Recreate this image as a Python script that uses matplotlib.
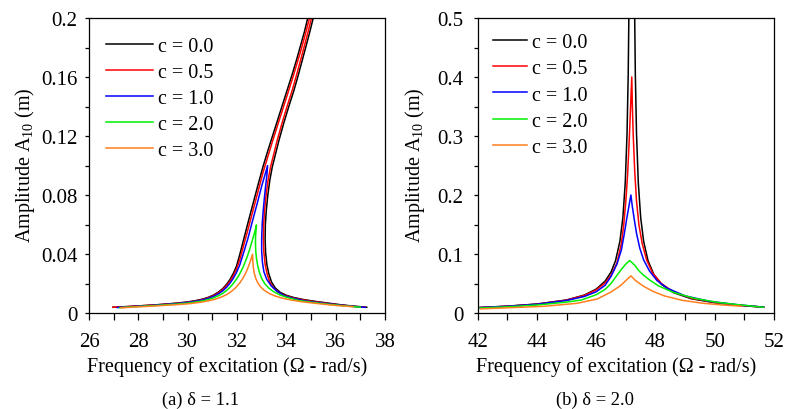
import matplotlib
matplotlib.use("Agg")
import matplotlib.pyplot as plt
from matplotlib.ticker import MultipleLocator

# === Dati ===
LABELS = ["c = 0.0", "c = 0.5", "c = 1.0", "c = 2.0", "c = 3.0"]
COLORI = ["#000000", "#ff0000", "#0000ff", "#00f000", "#ff7f1e"]

# (a) delta = 1.1 -- c = 0.0, due rami (senza smorzamento)
A_X_C00_SX = [26.97, 27.5, 28.0, 28.5, 29.0, 29.5, 30.0, 30.3, 30.6, 30.85, 31.05, 31.25, 31.42, 31.58, 31.72, 31.85,
              31.98, 32.11, 32.28, 32.45, 32.64, 32.83, 33.05, 33.25, 33.45, 33.65, 33.85, 34.05, 34.25, 34.42, 34.58,
              34.73, 34.87, 34.93]
A_Y_C00_SX = [0.0039, 0.0043, 0.0048, 0.0053, 0.0059, 0.0066, 0.0075, 0.0083, 0.0094, 0.0107, 0.0122, 0.0142, 0.0165,
              0.0195, 0.0228, 0.0268, 0.0318, 0.0395, 0.0505, 0.0615, 0.0735, 0.0855, 0.0990, 0.1100, 0.1205, 0.1310,
              0.1415, 0.1520, 0.1625, 0.1720, 0.1815, 0.1905, 0.2000, 0.2035]
A_X_C00_DX = [35.15, 35.09, 34.95, 34.80, 34.64, 34.48, 34.30, 34.10, 33.90, 33.70, 33.55, 33.43, 33.33, 33.25, 33.19,
              33.15, 33.14, 33.16, 33.21, 33.29, 33.40, 33.55, 33.75, 34.00, 34.30, 34.70, 35.20, 35.70, 36.20, 36.70,
              37.26]
A_Y_C00_DX = [0.2035, 0.2000, 0.1905, 0.1810, 0.1710, 0.1610, 0.1505, 0.1400, 0.1290, 0.1170, 0.1070, 0.0990, 0.0900,
              0.0800, 0.0700, 0.0600, 0.0500, 0.0410, 0.0330, 0.0265, 0.0210, 0.0170, 0.0140, 0.0120, 0.0105, 0.0091,
              0.0078, 0.0067, 0.0056, 0.0047, 0.0039]

# c = 0.5, il picco esce dal grafico
A_X_C05_SX = [26.97, 27.5, 28.0, 28.5, 29.0, 29.5, 30.0, 30.3, 30.6, 30.85, 31.05, 31.25, 31.42, 31.58, 31.72, 31.85,
              31.98, 32.11, 32.28, 32.45, 32.64, 32.83, 33.05, 33.25, 33.45, 33.65, 33.85, 34.05, 34.25, 34.42, 34.58,
              34.73, 34.87, 34.97]
A_Y_C05_SX = [0.0039, 0.0043, 0.0048, 0.0053, 0.0058, 0.0065, 0.0073, 0.0081, 0.0091, 0.0104, 0.0118, 0.0137, 0.0159,
              0.0187, 0.0217, 0.0253, 0.0298, 0.0360, 0.0465, 0.0570, 0.0690, 0.0810, 0.0950, 0.1060, 0.1170, 0.1275,
              0.1380, 0.1485, 0.1590, 0.1685, 0.1775, 0.1865, 0.1955, 0.2020]
A_X_C05_DX = [35.06, 35.02, 34.88, 34.73, 34.57, 34.41, 34.23, 34.03, 33.83, 33.63, 33.48, 33.36, 33.26, 33.18, 33.12,
              33.08, 33.07, 33.09, 33.14, 33.22, 33.33, 33.48, 33.68, 33.93, 34.23, 34.63, 35.13, 35.63, 36.13, 36.63,
              37.20]
A_Y_C05_DX = [0.2025, 0.2000, 0.1905, 0.1810, 0.1710, 0.1610, 0.1505, 0.1400, 0.1290, 0.1170, 0.1070, 0.0990, 0.0900,
              0.0800, 0.0700, 0.0600, 0.0500, 0.0410, 0.0330, 0.0265, 0.0210, 0.0170, 0.0140, 0.0120, 0.0104, 0.0090,
              0.0077, 0.0066, 0.0055, 0.0046, 0.0039]

A_X_C10 = [27.15, 27.5, 28.0, 28.5, 29.0, 29.5, 30.0, 30.3, 30.6, 30.85, 31.05, 31.25, 31.42, 31.58, 31.72, 31.85,
           31.98, 32.11, 32.28, 32.45, 32.63, 32.83, 33.00, 33.13, 33.24,
           33.21, 33.16, 33.11, 33.06, 33.02, 33.00, 33.00, 33.03, 33.09, 33.20, 33.38, 33.60, 33.90, 34.20, 34.75,
           35.20, 35.70, 36.20, 36.70, 37.20]
A_Y_C10 = [0.0037, 0.0041, 0.0046, 0.0051, 0.0057, 0.0063, 0.0071, 0.0079, 0.0088, 0.0100, 0.0113, 0.0130, 0.0150,
           0.0175, 0.0203, 0.0235, 0.0275, 0.0325, 0.0415, 0.0510, 0.0625, 0.0750, 0.0860, 0.0935, 0.0999,
           0.0930, 0.0860, 0.0780, 0.0690, 0.0600, 0.0500, 0.0420, 0.0345, 0.0280, 0.0230, 0.0185, 0.0150, 0.0118,
           0.0102, 0.0082, 0.0072, 0.0062, 0.0053, 0.0045, 0.0038]

A_X_C20 = [27.25, 27.5, 28.0, 28.5, 29.0, 29.5, 30.0, 30.3, 30.6, 30.85, 31.05, 31.25, 31.42, 31.58, 31.72, 31.85,
           31.98, 32.11, 32.25, 32.40, 32.52, 32.63, 32.72, 32.79,
           32.77, 32.75, 32.75, 32.76, 32.79, 32.84, 32.91, 33.00, 33.12, 33.28, 33.48, 33.72, 34.00, 34.50, 35.00,
           35.50, 36.00, 36.50, 37.00]
A_Y_C20 = [0.0036, 0.0039, 0.0044, 0.0049, 0.0054, 0.0060, 0.0067, 0.0074, 0.0082, 0.0092, 0.0103, 0.0117, 0.0133,
           0.0153, 0.0175, 0.0200, 0.0230, 0.0265, 0.0312, 0.0375, 0.0435, 0.0497, 0.0551, 0.0597,
           0.0560, 0.0515, 0.0470, 0.0420, 0.0370, 0.0320, 0.0275, 0.0235, 0.0200, 0.0170, 0.0145, 0.0124, 0.0107,
           0.0085, 0.0073, 0.0063, 0.0054, 0.0046, 0.0040]

A_X_C30 = [27.30, 27.5, 28.0, 28.5, 29.0, 29.5, 30.0, 30.3, 30.6, 30.85, 31.05, 31.25, 31.42, 31.58, 31.72, 31.85,
           31.98, 32.11, 32.25, 32.38, 32.48, 32.56, 32.63,
           32.64, 32.66, 32.70, 32.76, 32.84, 32.95, 33.10, 33.30, 33.55, 33.85, 34.20, 34.60, 35.10, 35.60, 36.10,
           36.70]
A_Y_C30 = [0.0035, 0.0037, 0.0042, 0.0046, 0.0051, 0.0056, 0.0062, 0.0068, 0.0075, 0.0083, 0.0091, 0.0101, 0.0112,
           0.0125, 0.0140, 0.0157, 0.0178, 0.0203, 0.0238, 0.0280, 0.0322, 0.0360, 0.0398,
           0.0355, 0.0310, 0.0270, 0.0235, 0.0205, 0.0178, 0.0154, 0.0133, 0.0115, 0.0100, 0.0088, 0.0077, 0.0067,
           0.0058, 0.0050, 0.0043]

# (b) delta = 2.0
B_X_C00_SX = [42.08, 43.0, 44.0, 45.0, 45.6, 46.0, 46.3, 46.5, 46.65, 46.8, 46.9, 46.98, 47.04, 47.08, 47.11]
B_Y_C00_SX = [0.0093, 0.0116, 0.0152, 0.0221, 0.0304, 0.0405, 0.0540, 0.0694, 0.0884, 0.1215, 0.162, 0.221, 0.304,
              0.405, 0.540]
B_X_C00_DX = [47.29, 47.32, 47.36, 47.42, 47.50, 47.60, 47.75, 47.95, 48.20, 48.60, 49.20, 50.00, 50.80, 51.65]
B_Y_C00_DX = [0.540, 0.405, 0.304, 0.221, 0.162, 0.1215, 0.0884, 0.0648, 0.0486, 0.0347, 0.0243, 0.0174, 0.0130,
              0.0098]

B_X_C05 = [42.08, 43.0, 44.0, 45.0, 45.6, 46.0, 46.3, 46.5, 46.7, 46.85, 46.93, 47.0, 47.06, 47.12, 47.16, 47.20,
           47.22, 47.25, 47.30, 47.36, 47.44, 47.55, 47.70, 47.90, 48.20, 48.60, 49.20, 50.00, 50.80, 51.65]
B_Y_C05 = [0.0093, 0.0115, 0.0150, 0.0218, 0.0298, 0.0392, 0.0510, 0.0640, 0.0850, 0.118, 0.150, 0.190, 0.235, 0.300,
           0.350, 0.400, 0.350, 0.300, 0.240, 0.190, 0.150, 0.118, 0.090, 0.068, 0.050, 0.036, 0.025, 0.0178, 0.0133,
           0.0098]

B_X_C10 = [42.08, 43.0, 44.0, 45.0, 45.6, 46.0, 46.3, 46.5, 46.7, 46.85, 46.95, 47.03, 47.10, 47.17,
           47.22, 47.28, 47.36, 47.47, 47.60, 47.80, 48.05, 48.40, 49.00, 49.80, 50.80, 51.65]
B_Y_C10 = [0.0092, 0.0113, 0.0148, 0.0212, 0.0280, 0.0360, 0.0470, 0.0620, 0.0830, 0.107, 0.135, 0.160, 0.180, 0.200,
           0.180, 0.160, 0.135, 0.110, 0.090, 0.071, 0.055, 0.042, 0.029, 0.0200, 0.0138, 0.0100]

B_X_C20 = [42.08, 43.0, 44.0, 45.0, 45.5, 46.0, 46.3, 46.5, 46.7, 46.85, 47.0, 47.13,
           47.30, 47.45, 47.60, 47.80, 48.10, 48.60, 49.30, 50.10, 50.90, 51.65]
B_Y_C20 = [0.0085, 0.0105, 0.0135, 0.0185, 0.0220, 0.0310, 0.0400, 0.0500, 0.0640, 0.0740, 0.0830, 0.0890,
           0.0810, 0.0710, 0.0640, 0.0560, 0.0460, 0.0350, 0.0250, 0.0180, 0.0135, 0.0097]

B_X_C30 = [42.10, 43.0, 44.23, 45.35, 46.03, 46.48, 46.81, 47.00, 47.17,
           47.33, 47.61, 47.90, 48.30, 48.90, 49.60, 50.30, 50.90]
B_Y_C30 = [0.0070, 0.0088, 0.0113, 0.0164, 0.0237, 0.0350, 0.0460, 0.0550, 0.0630,
           0.0548, 0.0450, 0.0370, 0.0290, 0.0215, 0.0165, 0.0135, 0.0115]

plt.rcParams["font.family"] = ["Liberation Serif", "DejaVu Serif"]
plt.rcParams["mathtext.fontset"] = "custom"
plt.rcParams["mathtext.rm"] = "Liberation Serif"
FS_TICK = 15
FS = 14.5
LW = 1.1

fig = plt.figure(figsize=(7.86, 4.10), dpi=100)
ax_a = fig.add_axes([89 / 786, 96 / 410, 296 / 786, 295 / 410])
ax_b = fig.add_axes([477.7 / 786, 96 / 410, 296.3 / 786, 295 / 410])

curve_a = [
    [(A_X_C00_SX, A_Y_C00_SX), (A_X_C00_DX, A_Y_C00_DX)],
    [(A_X_C05_SX, A_Y_C05_SX), (A_X_C05_DX, A_Y_C05_DX)],
    [(A_X_C10, A_Y_C10)],
    [(A_X_C20, A_Y_C20)],
    [(A_X_C30, A_Y_C30)],
]
curve_b = [
    [(B_X_C00_SX, B_Y_C00_SX), (B_X_C00_DX, B_Y_C00_DX)],
    [(B_X_C05, B_Y_C05)],
    [(B_X_C10, B_Y_C10)],
    [(B_X_C20, B_Y_C20)],
    [(B_X_C30, B_Y_C30)],
]

def disegna(ax, curve, xlim, ylim, xmaj, ymaj, fmt_y, leg_x, leg_y, hlen, ylab_x, ypad):
    for rami, col, lab in zip(curve, COLORI, LABELS):
        for i, (xs, ys) in enumerate(rami):
            ax.plot(xs, ys, color=col, linewidth=LW, label=lab if i == 0 else None)
    ax.set_xlim(*xlim)
    ax.set_ylim(*ylim)
    ax.xaxis.set_major_locator(MultipleLocator(xmaj))
    ax.xaxis.set_minor_locator(MultipleLocator(xmaj / 2))
    ax.yaxis.set_major_locator(MultipleLocator(ymaj))
    ax.yaxis.set_minor_locator(MultipleLocator(ymaj / 2))
    ax.yaxis.set_major_formatter(fmt_y)
    ax.tick_params(axis="x", which="both", direction="out", length=4.8, width=0.9, labelsize=FS_TICK, pad=9)
    ax.tick_params(axis="y", which="both", direction="out", length=3.2, width=0.9, labelsize=FS_TICK, pad=ypad)
    for sp in ax.spines.values():
        sp.set_linewidth(0.9)
    ax.set_xlabel("Frequency of excitation (\u03a9 - rad/s)", fontsize=FS)
    ax.set_ylabel(r"Amplitude A$_{\mathrm{10}}$ (m)", fontsize=FS)
    ax.xaxis.set_label_coords(0.467, -0.145)
    ax.yaxis.set_label_coords(ylab_x, 0.505)
    ax.legend(loc="upper left", bbox_to_anchor=(leg_x, leg_y), frameon=False, fontsize=FS,
              handlelength=hlen, handletextpad=0.28, labelspacing=0.345, borderpad=0, borderaxespad=0)

def fmt_a(v, pos):
    return "0" if abs(v) < 1e-9 else f"{v:.2f}".rstrip("0") if v < 0.1999 else "0.2"

def fmt_b(v, pos):
    return "0" if abs(v) < 1e-9 else f"{v:.1f}"

disegna(ax_a, curve_a, (26, 38), (0, 0.2), 2, 0.04, plt.FuncFormatter(fmt_a), 0.057, 0.935, 2.32, -0.176, 5)
disegna(ax_b, curve_b, (42, 52), (0, 0.5), 2, 0.1, plt.FuncFormatter(fmt_b), 0.05, 0.948, 1.7, -0.171, 7)

fig.text(201 / 786, 1 - 400 / 410, "(a) \u03b4 = 1.1", ha="center", va="center", fontsize=13.3)
fig.text(595 / 786, 1 - 400 / 410, "(b) \u03b4 = 2.0", ha="center", va="center", fontsize=13.3)

fig.savefig("out.png", dpi=100)
